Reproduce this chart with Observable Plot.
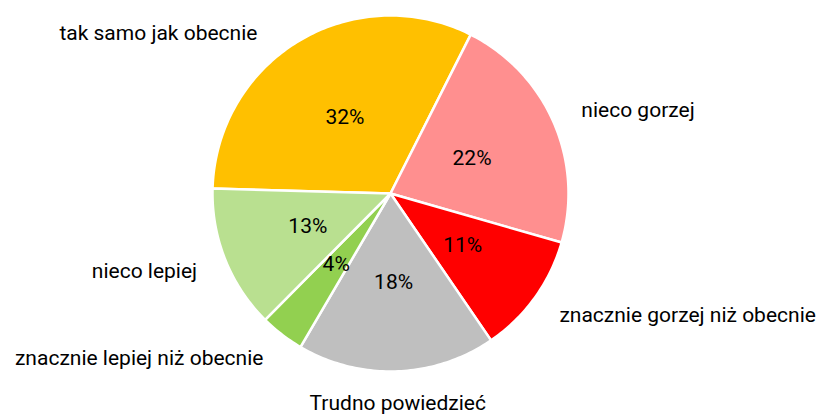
<!DOCTYPE html>
<html><head><meta charset="utf-8">
<script src="https://cdn.jsdelivr.net/npm/d3@7"></script>
<script src="https://cdn.jsdelivr.net/npm/@observablehq/plot@0.6"></script>
<style>body{margin:0;background:#fff;font-family:Roboto,sans-serif}</style>
</head><body><div id="chart"></div>
<script>
// Data (clockwise order)
const categories = ["tak samo jak obecnie","nieco gorzej","znacznie gorzej niż obecnie","Trudno powiedzieć","znacznie lepiej niż obecnie","nieco lepiej"];
const values = [32, 22, 11, 18, 4, 13];
const colors = ["#FFC000","#FF8F8F","#FF0000","#BFBFBF","#92D050","#B9E090"];

// Layout
const W = 827, H = 416, cx = 390, cy = 193, r = 178;
const startDeg = 271.6;
const total = d3.sum(values);
let acc = startDeg;
const slices = values.map((v, i) => {
  const a0 = acc, a1 = acc + v / total * 360; acc = a1;
  return {cat: categories[i], v, a0, a1, mid: (a0 + a1) / 2};
});
const rad = d => d * Math.PI / 180;
const poly = [];
for (const s of slices) {
  poly.push({cat: s.cat, x: 0, y: 0});
  const n = Math.max(2, Math.ceil(s.a1 - s.a0));
  for (let k = 0; k <= n; k++) {
    const a = rad(s.a0 + (s.a1 - s.a0) * k / n);
    poly.push({cat: s.cat, x: Math.sin(a), y: Math.cos(a)});
  }
  poly.push({cat: s.cat, x: 0, y: 0});
}
const inner = slices.map(s => ({t: Math.round(s.v) + "%", x: 0.5 * Math.sin(rad(s.mid)), y: 0.5 * Math.cos(rad(s.mid))}));
const R = 1.17, yMax = 0.9;
const outer = slices.map(s => {
  let x = R * Math.sin(rad(s.mid)), y = R * Math.cos(rad(s.mid));
  if (y > yMax) { y = yMax; x = Math.sign(x) * Math.sqrt(R * R - y * y); }
  if (y < -1.1) y = -1.18;
  const anchor = x > 0.2 ? "start" : x < -0.2 ? "end" : "middle";
  return {t: s.cat, x, y, anchor};
});

const chart = Plot.plot({
  width: W, height: H, margin: 0,
  x: {domain: [-cx / r, (W - cx) / r], axis: null},
  y: {domain: [-(H - cy) / r, cy / r], axis: null},
  color: {domain: categories, range: colors},
  style: {fontFamily: "Roboto, sans-serif", background: "#fff"},
  marks: [
    Plot.line(poly, {x: "x", y: "y", z: "cat", fill: "cat", stroke: "#fff", strokeWidth: 2.5, strokeLinejoin: "round", curve: "linear"}),
    Plot.text(inner, {x: "x", y: "y", text: "t", fontSize: 21, fill: "#000"}),
    ...["start", "end", "middle"].map(a => Plot.text(outer.filter(d => d.anchor === a), {x: "x", y: "y", text: "t", textAnchor: a, fontSize: 21, fill: "#000"}))
  ]
});
document.getElementById("chart").appendChild(chart);
</script></body></html>
